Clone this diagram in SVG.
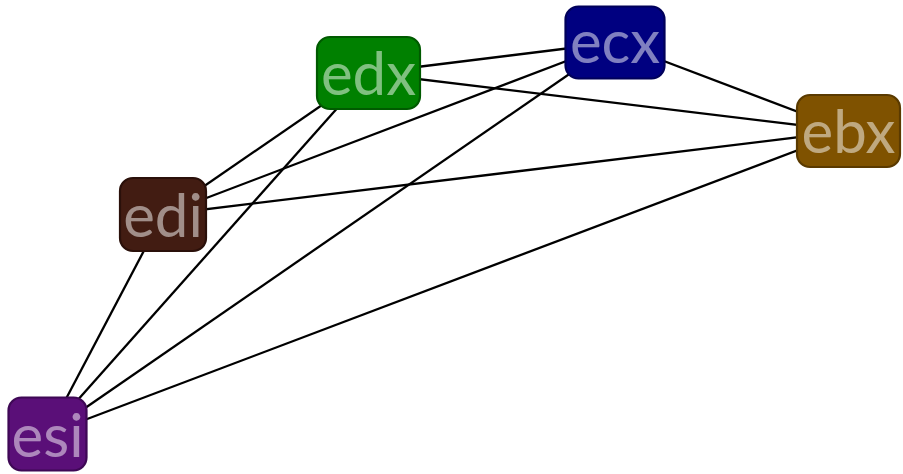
<svg xmlns="http://www.w3.org/2000/svg" width="903" height="474" viewBox="0 0 903 474">
<style>
.edge{stroke:#000;stroke-width:2.3;fill:none}
.box{stroke-width:2.2}
.lbl{font-family:Lato,"Open Sans",sans-serif;font-size:60px;fill:#fff;fill-opacity:0.5;text-anchor:middle}
</style>
<rect width="903" height="474" fill="#fff"/>
<g id="connectors">
<line class="edge" x1="368.5" y1="73" x2="615" y2="42.5"/>
<line class="edge" x1="368.5" y1="73" x2="848.5" y2="131"/>
<line class="edge" x1="615" y1="42.5" x2="848.5" y2="131"/>
<line class="edge" x1="615" y1="42.5" x2="163" y2="214.5"/>
<line class="edge" x1="615" y1="42.5" x2="47.5" y2="434"/>
<line class="edge" x1="368.5" y1="73" x2="163" y2="214.5"/>
<line class="edge" x1="368.5" y1="73" x2="47.5" y2="434"/>
<line class="edge" x1="163" y1="214.5" x2="848.5" y2="131"/>
<line class="edge" x1="47.5" y1="434" x2="848.5" y2="131"/>
<line class="edge" x1="163" y1="214.5" x2="47.5" y2="434"/>
</g>
<g id="edx">
<rect class="box" x="317" y="37" width="103" height="72" rx="13" fill="#008000" stroke="#005a00"/>
<text class="lbl" x="368.5" y="95">edx</text>
</g>
<g id="ecx">
<rect class="box" x="565.5" y="6.5" width="99" height="72" rx="13" fill="#000080" stroke="#00005a"/>
<text class="lbl" x="615" y="63">ecx</text>
</g>
<g id="ebx">
<rect class="box" x="797" y="95" width="103" height="72" rx="13" fill="#7f5200" stroke="#5a3a00"/>
<text class="lbl" x="848.5" y="153">ebx</text>
</g>
<g id="edi">
<rect class="box" x="120" y="178" width="86" height="73" rx="13" fill="#421c12" stroke="#2a100a"/>
<text class="lbl" x="163" y="237">edi</text>
</g>
<g id="esi">
<rect class="box" x="8.5" y="397.5" width="78" height="73" rx="13" fill="#5a0f78" stroke="#3e0855"/>
<text class="lbl" x="47.5" y="457">esi</text>
</g>
</svg>
